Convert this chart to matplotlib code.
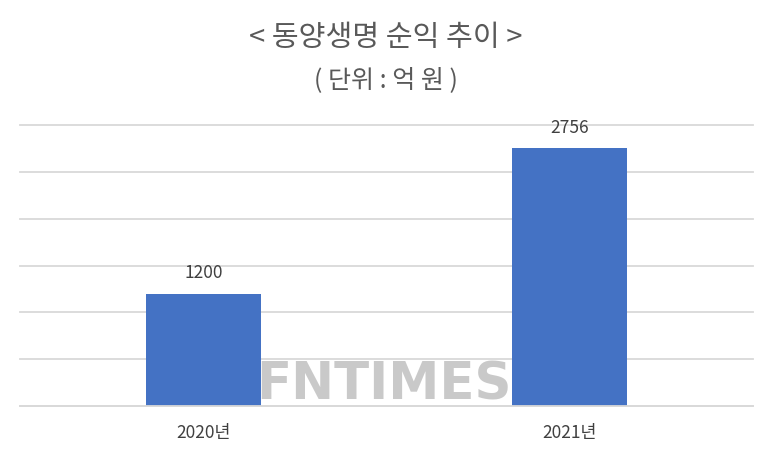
import matplotlib
matplotlib.use("Agg")
import matplotlib.pyplot as plt

plt.rcParams['font.family'] = ['Noto Sans CJK KR', 'DejaVu Sans']

categories = ["2020년", "2021년"]
values = [1200, 2756]
title = "< 동양생명 순익 추이 >"
subtitle = "( 단위 : 억 원 )"

fig = plt.figure(figsize=(7.71, 4.57), dpi=100)
ax = fig.add_axes([20/771, 1-406/457, (753-20)/771, (406-125)/457])

x = range(len(categories))
ax.bar(x, values, width=0.313, color="#4472C4", zorder=2)
ax.set_xlim(-0.5, 1.5)
ax.set_ylim(0, 3000)
ax.set_yticks(range(0, 3001, 500))
ax.yaxis.grid(True, color="#d9d9d9", linewidth=1.3, zorder=0)
for gl in ax.get_ygridlines():
    gl.set_clip_on(False)
ax.tick_params(axis='y', left=False, labelleft=False)
ax.set_xticks(list(x))
ax.set_xticklabels(categories, fontsize=12.5, color="#404040")
ax.tick_params(axis='x', length=0, pad=13)
for s in ['top', 'right', 'left']:
    ax.spines[s].set_visible(False)
ax.spines['bottom'].set_color("#d9d9d9")
ax.spines['bottom'].set_linewidth(1.3)

for xi, v in zip(x, values):
    ax.annotate(str(v), (xi, v), xytext=(0, 8), textcoords="offset points",
                ha="center", va="bottom", fontsize=12.5, color="#404040")

fig.text(0.5, 1-38/457, title, ha="center", va="center", fontsize=21, color="#595959")
fig.text(0.5, 1-80/457, subtitle, ha="center", va="center", fontsize=18, color="#595959")

fig.text(384/771, 1-386/457, "FNTIMES", ha="center", va="center", fontsize=37,
         fontweight="bold", color="#b8b8b8", alpha=0.75, family="DejaVu Sans", zorder=5)

fig.savefig("out.png", dpi=100)
